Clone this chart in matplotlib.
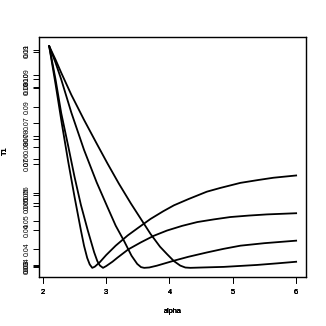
import matplotlib
matplotlib.use("Agg")
import matplotlib.pyplot as plt

plt.rcParams['font.family'] = ['Liberation Sans', 'DejaVu Sans']

# four T1 curves, each drawn on its own y scale (R-style par(new=TRUE) overlay)
alpha_1 = [2.1, 2.2, 2.3, 2.4, 2.5, 2.6, 2.65, 2.7, 2.74, 2.78, 2.82, 2.9, 3.0,
           3.15, 3.34, 3.5, 3.7, 3.9, 4.07, 4.3, 4.59, 4.8, 5.12, 5.4, 5.64, 6.0]
t1_1 = [0.1115, 0.0982, 0.0842, 0.0709, 0.0585, 0.0468, 0.0413, 0.0370, 0.0347,
        0.0335, 0.0339, 0.0355, 0.0380, 0.0413, 0.0449, 0.0475, 0.0507, 0.0534,
        0.0555, 0.0577, 0.0603, 0.0616, 0.0634, 0.0644, 0.0652, 0.0660]

alpha_2 = [2.1, 2.2, 2.29, 2.4, 2.5, 2.6, 2.71, 2.81, 2.86, 2.9, 2.95, 3.0, 3.1,
           3.18, 3.35, 3.55, 3.75, 3.96, 4.2, 4.44, 4.7, 4.96, 5.25, 5.54, 6.0]
t1_2 = [0.1144, 0.1031, 0.0916, 0.0804, 0.0699, 0.0604, 0.0516, 0.0442, 0.0412,
        0.0397, 0.0389, 0.0395, 0.0410, 0.0424, 0.0452, 0.0476, 0.0498, 0.0516,
        0.0532, 0.0545, 0.0554, 0.0562, 0.0567, 0.0571, 0.0575]

alpha_3 = [2.1, 2.2, 2.29, 2.45, 2.65, 2.85, 3.02, 3.15, 3.28, 3.4, 3.49, 3.55,
           3.6, 3.68, 3.8, 4.07, 4.3, 4.59, 4.85, 5.12, 5.5, 6.0]
t1_3 = [0.0915, 0.0869, 0.0822, 0.0729, 0.0625, 0.0534, 0.0465, 0.0413, 0.0371,
        0.0329, 0.0306, 0.0297, 0.0295, 0.0296, 0.0301, 0.0315, 0.0326, 0.0338,
        0.0348, 0.0357, 0.0364, 0.0371]

alpha_4 = [2.1, 2.2, 2.29, 2.45, 2.65, 2.85, 3.02, 3.2, 3.39, 3.55, 3.7, 3.85,
           3.96, 4.07, 4.17, 4.25, 4.33, 4.5, 4.86, 5.38, 5.7, 6.0]
t1_4 = [0.0990, 0.0948, 0.0907, 0.0838, 0.0760, 0.0686, 0.0624, 0.0561, 0.0499,
        0.0450, 0.0404, 0.0364, 0.0341, 0.0319, 0.0305, 0.0299, 0.0298, 0.0299,
        0.0301, 0.0307, 0.0312, 0.0317]

yticks_1 = [0.04, 0.05, 0.06, 0.07, 0.08, 0.09, 0.10, 0.11]
yticks_2 = [0.04, 0.06, 0.08, 0.10]
yticks_3 = [0.03, 0.04, 0.05, 0.06, 0.07, 0.08, 0.09]
yticks_4 = [0.03, 0.05, 0.07, 0.09]
xticks = [2, 3, 4, 5, 6]

series = [(alpha_1, t1_1, yticks_1), (alpha_2, t1_2, yticks_2),
          (alpha_3, t1_3, yticks_3), (alpha_4, t1_4, yticks_4)]

fig = plt.figure(figsize=(3.26, 3.26), dpi=100)
rect = [0.1206, 0.1512, 0.8181, 0.7344]

for i, (x, y, yt) in enumerate(series):
    ax = fig.add_axes(rect, label=f"curve{i}")
    if i > 0:
        ax.patch.set_visible(False)
    ax.plot(x, y, color='black', lw=1.3, solid_joinstyle='round')
    # R default: 4% padding on both axes
    xr = max(x) - min(x)
    yr = max(y) - min(y)
    ax.set_xlim(min(x) - 0.04 * xr, max(x) + 0.04 * xr)
    ax.set_ylim(min(y) - 0.04 * yr, max(y) + 0.04 * yr)
    ax.set_xticks(xticks)
    ax.set_xticklabels([str(v) for v in xticks])
    ax.set_yticks(yt)
    ax.set_yticklabels([f"{v:.2f}" for v in yt], rotation=90, va='center')
    ax.tick_params(axis='x', length=4.5, width=0.7, labelsize=5.3, pad=4.0)
    ax.tick_params(axis='y', length=4.2, width=0.7, labelsize=5.0, pad=2.2)
    for s in ax.spines.values():
        s.set_linewidth(0.8)
    ax.set_xlabel('alpha', fontsize=5.3, va='top')
    ax.xaxis.set_label_coords(0.5, -0.13)
    ax.set_ylabel('T1', fontsize=5.3)
    ax.yaxis.set_label_coords(-0.113, 0.525)

fig.savefig('out.png', dpi=100)
